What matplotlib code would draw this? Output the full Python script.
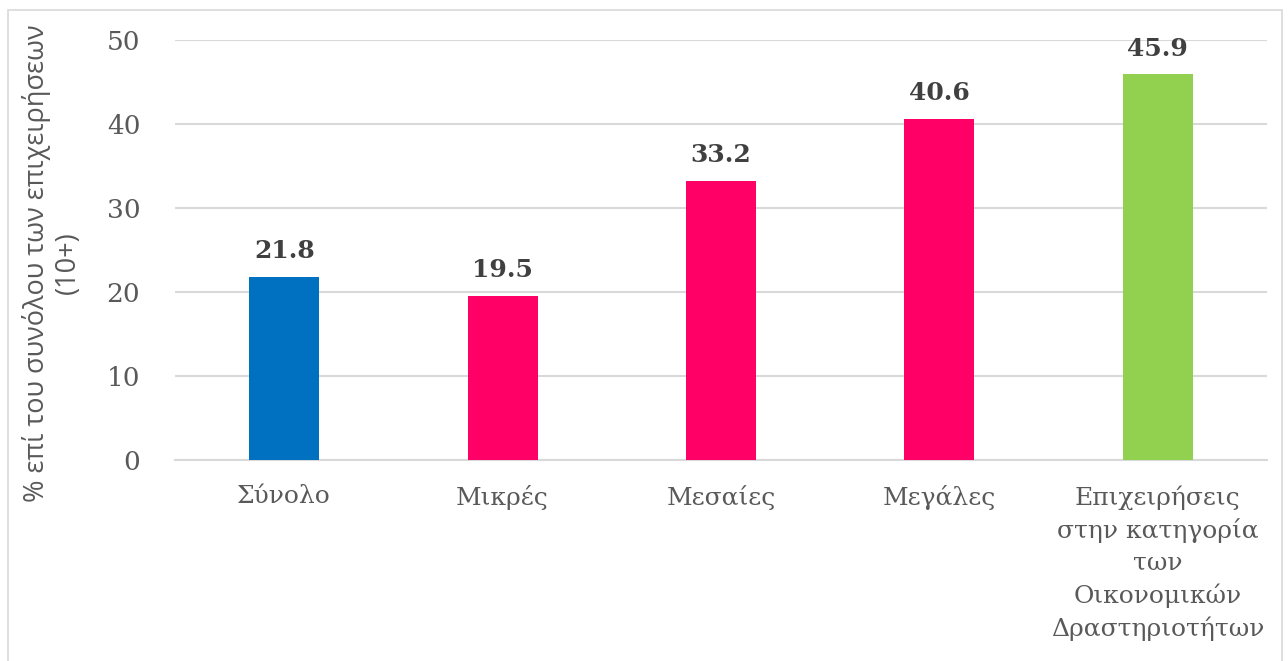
import matplotlib.pyplot as plt
from matplotlib.patches import Rectangle

# --- data ---
categories = ["Σύνολο", "Μικρές", "Μεσαίες", "Μεγάλες",
              "Επιχειρήσεις\nστην κατηγορία\nτων\nΟικονομικών\nΔραστηριοτήτων"]
values = [21.8, 19.5, 33.2, 40.6, 45.9]
colors = ["#0070C0", "#FF0066", "#FF0066", "#FF0066", "#92D050"]
yticks = [0, 10, 20, 30, 40, 50]
ylabel = "% επί του συνόλου των επιχειρήσεων\n(10+)"

txt_gray = "#595959"
grid_gray = "#D9D9D9"

fig = plt.figure(figsize=(12.88, 6.61), dpi=100)
ax = fig.add_axes([175 / 1288, 1 - 460 / 661, 1092 / 1288, 420 / 661])

x = range(len(categories))
bars = ax.bar(x, values, width=0.32, color=colors, zorder=3)

for b, v in zip(bars, values):
    ax.annotate(f"{v:.1f}", (b.get_x() + b.get_width() / 2, v),
                xytext=(0, 10), textcoords="offset points",
                ha="center", va="bottom", fontsize=18, fontweight="bold",
                family="DejaVu Serif", color="#404040")

ax.set_xlim(-0.5, len(categories) - 0.5)
ax.set_ylim(0, 50)
ax.set_yticks(yticks)
ax.set_xticks(list(x))
ax.set_xticklabels(categories, family="DejaVu Serif", fontsize=18,
                   color=txt_gray, linespacing=1.45)
ax.set_yticklabels([str(t) for t in yticks], family="DejaVu Serif",
                   fontsize=19, color=txt_gray)
ax.tick_params(axis="y", length=0, pad=25)
ax.tick_params(axis="x", length=0, pad=18)

ax.grid(axis="y", color=grid_gray, linewidth=1.5, zorder=0)
for s in ["top", "right", "left"]:
    ax.spines[s].set_visible(False)
ax.spines["bottom"].set_color(grid_gray)
ax.spines["bottom"].set_linewidth(1.5)

fig.text(52 / 1288, 1 - 263 / 661, ylabel, rotation=90, ha="center",
         va="center", family="Open Sans", fontsize=19.5, color=txt_gray,
         multialignment="center", linespacing=1.1)

# outer chart frame
fig.patches.append(Rectangle((8 / 1288, -0.1), 1274 / 1288, 1.1 - 10 / 661,
                             transform=fig.transFigure, fill=False,
                             edgecolor=grid_gray, linewidth=1.2))

fig.savefig("out.png", dpi=100)
